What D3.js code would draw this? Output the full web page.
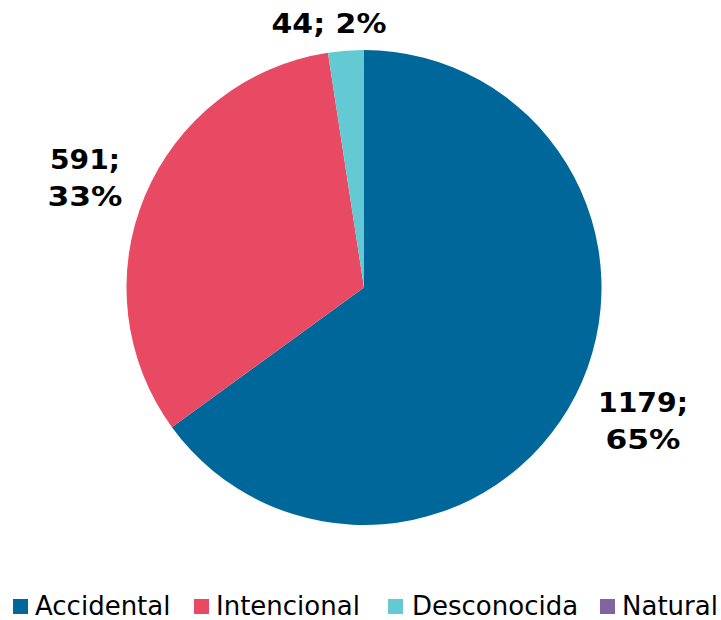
<!DOCTYPE html>
<html><head><meta charset="utf-8">
<script src="https://cdn.jsdelivr.net/npm/d3@7"></script>
<style>body{margin:0;background:#fff}svg{display:block}</style>
</head><body>
<svg id="c" width="721" height="620"></svg>
<script>
const categories = ["Accidental", "Intencional", "Desconocida", "Natural"];
const values = [1179, 591, 44, 0];
const percents = ["65%", "33%", "2%", "0%"];
const colors = ["#00679a", "#e84a63", "#63c9d3", "#8064a2"];

const svg = d3.select("#c");
const cx = 364, cy = 287.5, r = 237.5;
const font = "'DejaVu Sans', Verdana, sans-serif";

const pie = d3.pie().sort(null).value(d => d.v);
const data = categories.map((c, i) => ({c, v: values[i], p: percents[i], col: colors[i]}));
const arcs = pie(data);
const arc = d3.arc().innerRadius(0).outerRadius(r);

const g = svg.append("g").attr("transform", `translate(${cx},${cy})`);
g.selectAll("path").data(arcs.filter(a => a.data.v > 0)).join("path")
  .attr("d", arc).attr("fill", d => d.data.col);

// labels
const labelPos = {
  "Accidental": {x: 643, y: 412, lines: 2, w: [90, 75]},
  "Intencional": {x: 85, y: 169, lines: 2, w: [70, 75]},
  "Desconocida": {x: 329, y: 33, lines: 1, w: [115]}
};
arcs.filter(a => a.data.v > 0).forEach(a => {
  const lp = labelPos[a.data.c];
  const t = svg.append("text").attr("text-anchor", "middle")
    .attr("font-family", font).attr("font-weight", "bold").attr("font-size", 26)
    .attr("fill", "#000");
  const lines = lp.lines === 2 ? [a.data.v + ";", a.data.p] : [a.data.v + "; " + a.data.p];
  lines.forEach((s, k) => {
    t.append("tspan").attr("x", lp.x).attr("y", lp.y + k * 37)
      .attr("textLength", lp.w[k]).attr("lengthAdjust", "spacingAndGlyphs").text(s);
  });
});

// legend
const legX = [13, 194, 388, 600];
const legTx = [35, 216, 412, 622];
const lg = svg.append("g");
categories.forEach((c, i) => {
  lg.append("rect").attr("x", legX[i]).attr("y", 599).attr("width", 15).attr("height", 15).attr("fill", colors[i]);
  lg.append("text").attr("x", legTx[i]).attr("y", 615)
    .attr("font-family", font).attr("font-size", 26).attr("fill", "#000").text(c);
});
</script>
</body></html>
